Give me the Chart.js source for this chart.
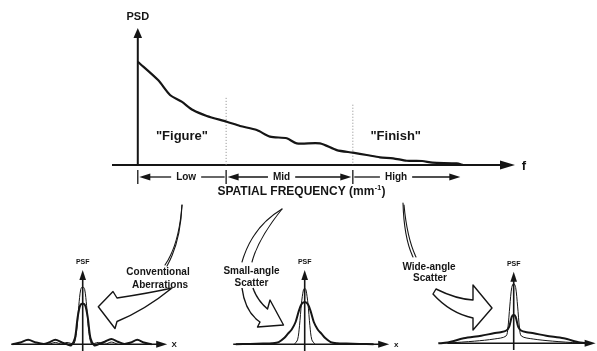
<!DOCTYPE html>
<html><head><meta charset="utf-8">
<script src="https://cdn.jsdelivr.net/npm/chart.js@4/dist/chart.umd.min.js"></script>
<style>
html,body{margin:0;padding:0;background:#fff;}
#wrap{position:relative;width:597px;height:351px;overflow:hidden;background:#fff;}
.box{position:absolute;}
#deco{position:absolute;left:0;top:0;}
#deco text{font-family:'Liberation Sans',Arial,Helvetica,sans-serif;font-weight:bold;font-size:10px;fill:#151515;}
</style></head><body>
<div id="wrap">
  <div class="box" style="left:0;top:0;width:597px;height:200px"><canvas id="main"></canvas></div>
  <div class="box" style="left:0;top:255px;width:185px;height:96px"><canvas id="psf1"></canvas></div>
  <div class="box" style="left:222.3px;top:255px;width:185px;height:96px"><canvas id="psf2"></canvas></div>
  <div class="box" style="left:430.6px;top:254px;width:185px;height:96px"><canvas id="psf3"></canvas></div>
  <svg id="deco" width="597" height="351" viewBox="0 0 597 351">
    <g fill="none" stroke="#151515" stroke-width="1.1" stroke-linecap="round">
      <path d="M182,205 C181,230 176,250 167,266"/>
      <path d="M182,205 C180,232 174,252 165,265"/>
      <path d="M282,209 Q252,227 242,262"/>
      <path d="M282,209 Q258,239 252,262"/>
      <path d="M403,203 Q404,238 413,257"/>
      <path d="M404,205 Q407,238 416,257"/>
    </g>
    <g fill="#fff" stroke="#151515" stroke-width="1.4" stroke-linejoin="round">
      <path d="M172,288 Q150,293 117,298 L113,291.5 L98.3,306.7 L115,328.5 L117,321.5 Q145,310 172,288 Z"/>
      <path d="M242,288 Q245,312 260,322 L257.5,327 L283.5,325 L270,300 L267.5,309 Q257,300 253,288"/>
      <path d="M436,289 Q456,299 473,300 L473,285 L492,308 L473,330 L473,318 Q450,313 433,294 Z"/>
    </g>
    <text x="158" y="275" text-anchor="middle">Conventional</text>
    <text x="160" y="288" text-anchor="middle">Aberrations</text>
    <text x="251.5" y="273.5" text-anchor="middle">Small-angle</text>
    <text x="251.5" y="285.5" text-anchor="middle">Scatter</text>
    <text x="429" y="269.5" text-anchor="middle">Wide-angle</text>
    <text x="430" y="280.5" text-anchor="middle">Scatter</text>
  </svg>
</div>
<script>
// ---------- DATA ----------
// Main PSD curve (spatial frequency in arbitrary units, PSD in relative units)
const psdFreq   = [0, 6.3, 10.0, 13.6, 17.1, 21.4, 27.6, 31.7, 36.9, 41.0, 46.2, 49.3, 56.5, 61.7, 66.7, 71.0, 75.1, 79.2, 83.4, 88.2, 91.4, 98.9, 100.9];
const psdValues = [75.4, 62.0, 51.1, 46.2, 40.1, 35.8, 31.6, 28.5, 25.5, 20.7, 19.5, 15.8, 15.8, 10.9, 9.0, 7.3, 5.6, 4.9, 3.1, 2.9, 1.7, 1.2, 0];
const bandLabels = ['Low', 'Mid', 'High'];
const bandEdges  = [0, 27.4, 66.7, 100.5];
const bandLabelAt = [15, 44.6, 80.1];
const regionLabels = ['"Figure"', '"Finish"'];
const regionLabelAt = [13.7, 80];
const axisTitle = 'SPATIAL FREQUENCY (mm';

// PSF: conventional aberrations
const convThickX = [-5.4,-4.8,-4.2,-3.6,-3.0,-2.6,-2.1,-1.6,-1.2,-0.9,-0.6,-0.4,-0.2,0,0.2,0.4,0.6,0.9,1.2,1.7,2.2,2.7,3.2,3.7,4.2,4.7,5.3];
const convThickY = [0,2.5,6,2.5,0.5,2.5,6,2.5,0,-1.5,8,35,52,55,52,35,8,-1.5,0,3.5,7,3.5,0.5,2.5,6,2.5,0];
const convThinX  = [-2.6,-2.1,-1.6,-1.2,-0.7,-0.45,-0.3,-0.15,0,0.15,0.3,0.45,0.7,1.2,1.7,2.2,2.7];
const convThinY  = [0,2.5,0,2.5,0,20,52,74,77.5,74,52,20,0,2.5,0,3,0];
// PSF: small-angle scatter
const smallThickX = [-5.3,-4.2,-3.2,-2.5,-2.0,-1.6,-1.3,-1.0,-0.7,-0.45,-0.25,0,0.25,0.45,0.7,1.0,1.3,1.6,2.0,2.5,3.2,4.2,5.3];
const smallThickY = [0,0.5,1,1.5,3,8,14,20,30,45,54,57,54,45,30,20,14,8,3,1.5,1,0.5,0];
const smallThinX  = [-0.8,-0.55,-0.4,-0.25,-0.1,0,0.1,0.25,0.4,0.55,0.8];
const smallThinY  = [0,6,25,55,73,75.5,73,55,25,6,0];
// PSF: wide-angle scatter
const wideThickX = [-5.8,-5.1,-3.85,-2.5,-1.54,-1.0,-0.6,-0.35,-0.15,0,0.15,0.35,0.6,1.0,1.54,2.5,3.85,5.1,5.8];
const wideThickY = [0,1,7,10.5,14,15.5,17.5,23,37,39.5,37,23,17.5,15.5,14,10.5,7,1,0];
const wideThinX  = [-5.6,-5.0,-3.0,-1.5,-0.6,-0.45,-0.3,-0.15,0,0.15,0.3,0.45,0.6,1.5,3.0,5.0,5.6];
const wideThinY  = [0,0.5,3,6,10,21,52,78,83.8,78,52,21,10,6,3,0.5,0];

// ---------- HELPERS ----------
const FONT = "'Liberation Sans', Arial, Helvetica, sans-serif";
const INK = '#151515';
const pts = (xs, ys) => xs.map((x, i) => ({x, y: ys[i]}));
function head(ctx, x, y, dir, len, half) {
  ctx.beginPath();
  ctx.moveTo(x, y);
  if (dir === 'right') { ctx.lineTo(x - len, y - half); ctx.lineTo(x - len, y + half); }
  if (dir === 'left')  { ctx.lineTo(x + len, y - half); ctx.lineTo(x + len, y + half); }
  if (dir === 'up')    { ctx.lineTo(x - half, y + len); ctx.lineTo(x + half, y + len); }
  ctx.closePath(); ctx.fill();
}
function line(ctx, x1, y1, x2, y2) { ctx.beginPath(); ctx.moveTo(x1, y1); ctx.lineTo(x2, y2); ctx.stroke(); }

// ---------- MAIN PSD CHART ----------
const mainDeco = {
  id: 'mainDeco',
  beforeDatasetsDraw(chart) {
    const {ctx, chartArea: a, scales: {x, y}} = chart;
    const x0 = x.getPixelForValue(0), yb = y.getPixelForValue(0), yt = y.getPixelForValue(100);
    ctx.save();
    ctx.strokeStyle = INK; ctx.fillStyle = INK; ctx.lineWidth = 2;
    line(ctx, a.left, yb, a.right - 12, yb);
    head(ctx, a.right, yb, 'right', 15, 4.5);
    line(ctx, x0, yb, x0, yt + 8);
    head(ctx, x0, yt, 'up', 10, 4.3);
    // dotted band boundaries
    ctx.strokeStyle = '#8a8a8a'; ctx.lineWidth = 1; ctx.setLineDash([1, 2]);
    const tops = [49, 44];
    [1, 2].forEach((k, i) => { const px = x.getPixelForValue(bandEdges[k]); line(ctx, px, y.getPixelForValue(tops[i]), px, yb); });
    ctx.restore();
  },
  afterDraw(chart) {
    const {ctx, chartArea: a, scales: {x, y}} = chart;
    const x0 = x.getPixelForValue(0), yb = y.getPixelForValue(0), yt = y.getPixelForValue(100);
    ctx.save();
    ctx.fillStyle = INK; ctx.strokeStyle = INK;
    ctx.textAlign = 'center'; ctx.textBaseline = 'middle';
    ctx.font = 'bold 11px ' + FONT; ctx.fillText('PSD', x0, yt - 11);
    ctx.font = 'bold 13px ' + FONT; ctx.fillText('f', a.right + 9, yb + 1);
    regionLabels.forEach((t, i) => ctx.fillText(t, x.getPixelForValue(regionLabelAt[i]), y.getPixelForValue(21.2)));
    // band row
    const ry = yb + 12;
    ctx.lineWidth = 1.3;
    [0, 1, 2].forEach(k => { const px = x.getPixelForValue(bandEdges[k]); line(ctx, px, ry - 7, px, ry + 7); });
    ctx.font = 'bold 10px ' + FONT;
    const heads = [[true, false], [true, true], [false, true]];
    bandLabels.forEach((t, i) => {
      const s = x.getPixelForValue(bandEdges[i]) + 1.5, e = x.getPixelForValue(bandEdges[i + 1]) - 1.5;
      const c = x.getPixelForValue(bandLabelAt[i]), w = ctx.measureText(t).width;
      ctx.fillText(t, c, ry);
      line(ctx, s + (heads[i][0] ? 8 : 0), ry, c - w / 2 - 5, ry);
      line(ctx, c + w / 2 + 5, ry, e - (heads[i][1] ? 8 : 0), ry);
      if (heads[i][0]) head(ctx, s, ry, 'left', 11, 3.5);
      if (heads[i][1]) head(ctx, e, ry, 'right', 11, 3.5);
    });
    // axis title with superscript
    ctx.font = 'bold 12px ' + FONT;
    const w1 = ctx.measureText(axisTitle).width;
    ctx.font = 'bold 7px ' + FONT; const w2 = ctx.measureText('-1').width;
    ctx.font = 'bold 12px ' + FONT; const w3 = ctx.measureText(')').width;
    const tx = 301 - (w1 + w2 + w3) / 2, tyy = ry + 15;
    ctx.textAlign = 'left';
    ctx.fillText(axisTitle, tx, tyy);
    ctx.font = 'bold 7px ' + FONT; ctx.fillText('-1', tx + w1 + 0.5, tyy - 4);
    ctx.font = 'bold 12px ' + FONT; ctx.fillText(')', tx + w1 + w2 + 1, tyy);
    ctx.restore();
  }
};

new Chart(document.getElementById('main'), {
  type: 'line',
  data: { datasets: [{ data: pts(psdFreq, psdValues), borderColor: INK, borderWidth: 2.2, tension: 0.25, pointRadius: 0, fill: false }] },
  options: {
    responsive: true, maintainAspectRatio: false, animation: false, devicePixelRatio: 1,
    layout: { padding: { left: 112, right: 82, top: 28, bottom: 35 } },
    scales: { x: { type: 'linear', min: -8, max: 117, display: false }, y: { min: 0, max: 100, display: false } },
    plugins: { legend: { display: false }, tooltip: { enabled: false } }
  },
  plugins: [mainDeco]
});

// ---------- PSF CHARTS ----------
const psfDeco = {
  id: 'psfDeco',
  beforeDatasetsDraw(chart, args, opts) {
    const {ctx, chartArea: a, scales: {x, y}} = chart;
    const x0 = x.getPixelForValue(0), yb = y.getPixelForValue(0), yt = y.getPixelForValue(100);
    ctx.save();
    ctx.strokeStyle = INK; ctx.fillStyle = INK; ctx.lineWidth = 1.6;
    line(ctx, a.left, yb, a.right - 8, yb);
    head(ctx, a.right, yb, 'right', 11, 3.5);
    line(ctx, x0, yb + 8, x0, yt + 6);
    head(ctx, x0, yt, 'up', 10, 3.3);
    ctx.restore();
  },
  afterDraw(chart, args, opts) {
    const {ctx, chartArea: a, scales: {x, y}} = chart;
    const x0 = x.getPixelForValue(0), yb = y.getPixelForValue(0), yt = y.getPixelForValue(100);
    ctx.save();
    ctx.fillStyle = INK; ctx.textAlign = 'center'; ctx.textBaseline = 'middle';
    ctx.font = 'bold 7px ' + FONT; ctx.fillText('PSF', x0, yt - 8);
    if (opts.xLabel) { ctx.font = 'bold 8px ' + FONT; ctx.fillText(opts.xLabel, a.right + 7, yb); }
    ctx.restore();
  }
};
function makePsf(id, thick, thin, xMin, xMax, pad, xLabel) {
  new Chart(document.getElementById(id), {
    type: 'line',
    data: { datasets: [
      { data: thin, borderColor: INK, borderWidth: 1, tension: 0.3, pointRadius: 0, clip: 10 },
      { data: thick, borderColor: INK, borderWidth: 2, tension: 0.3, pointRadius: 0, clip: 10 }
    ] },
    options: {
      responsive: true, maintainAspectRatio: false, animation: false, devicePixelRatio: 1,
      layout: { padding: pad },
      scales: { x: { type: 'linear', min: xMin, max: xMax, display: false }, y: { min: 0, max: 100, display: false } },
      plugins: { legend: { display: false }, tooltip: { enabled: false }, psfDeco: { xLabel } }
    },
    plugins: [psfDeco]
  });
}
makePsf('psf1', pts(convThickX, convThickY), pts(convThinX, convThinY), -5.5, 6.5, {left: 11.2, right: 17.8, top: 15, bottom: 6.7}, 'X');
makePsf('psf2', pts(smallThickX, smallThickY), pts(smallThinX, smallThinY), -5.5, 6.5, {left: 11.2, right: 17.8, top: 15, bottom: 6.7}, 'x');
makePsf('psf3', pts(wideThickX, wideThickY), pts(wideThinX, wideThinY), -5.1, 6.3, {left: 16.4, right: 20.4, top: 17.7, bottom: 6.7}, '');
</script>
</body></html>
